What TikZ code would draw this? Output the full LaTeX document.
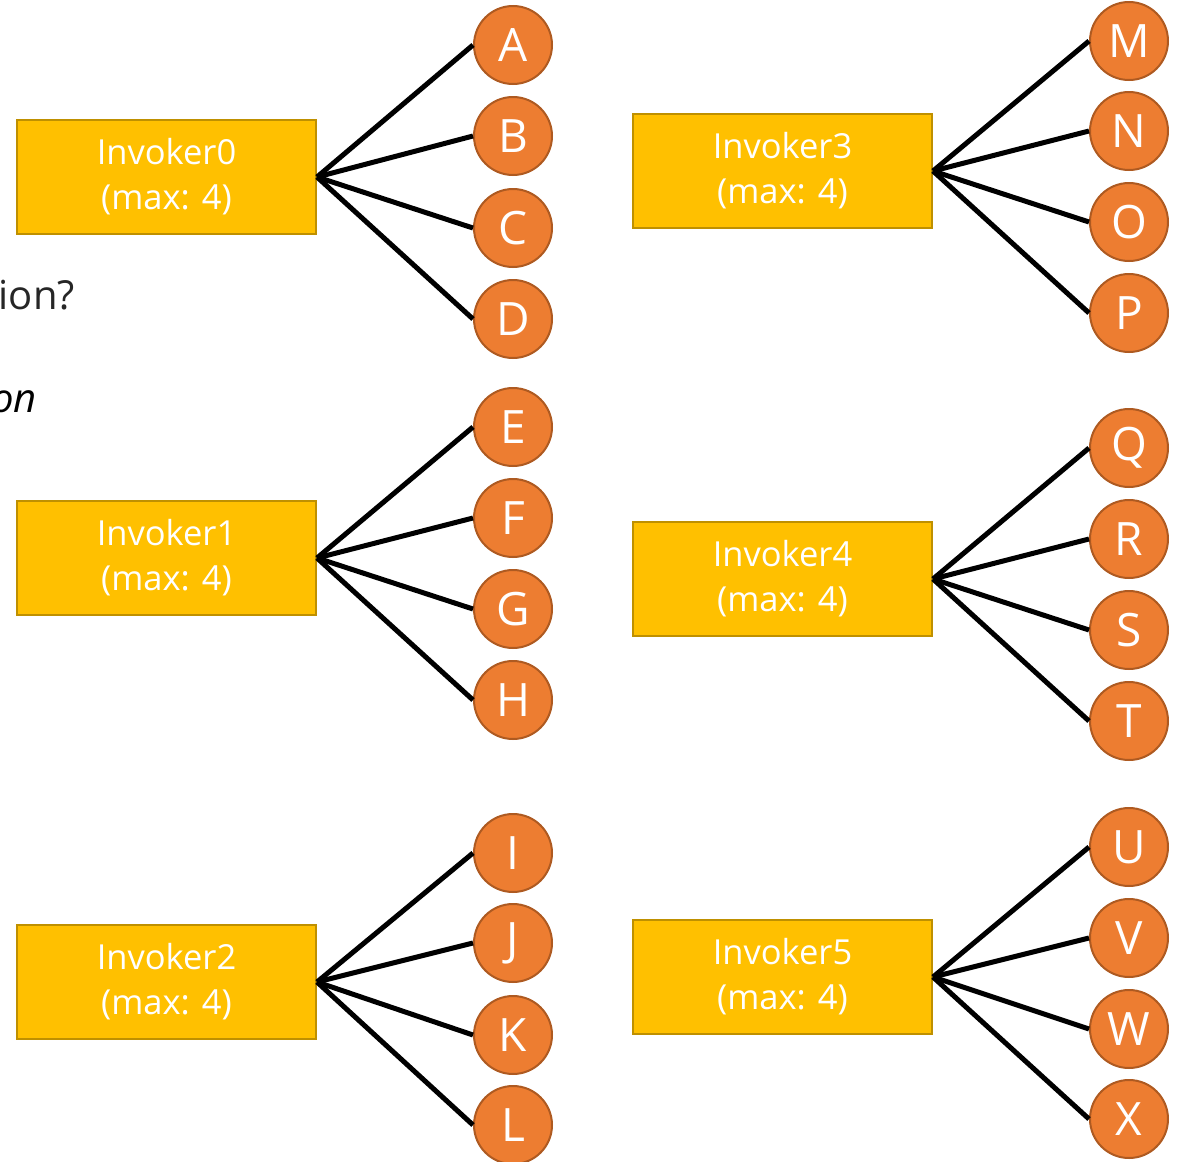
\documentclass[tikz,border=0pt]{standalone}
\usepackage{fontspec}
\setmainfont{Open Sans}
\begin{document}
\begin{tikzpicture}[x=1pt,y=-1pt,
  invoker/.style={draw=boxedge,fill=boxfill,line width=2pt,minimum width=299pt,minimum height=114pt,
    text=white,align=center,font=\fontsize{34.5}{45}\selectfont,inner sep=0pt},
  task/.style={circle,draw=taskedge,fill=taskfill,line width=2pt,minimum size=78pt,inner sep=0pt,
    text=white,font=\fontsize{46}{46}\selectfont},
  link/.style={line width=5pt,black}]
\definecolor{boxfill}{HTML}{FFC000}
\definecolor{boxedge}{HTML}{BF9000}
\definecolor{taskfill}{HTML}{ED7D31}
\definecolor{taskedge}{HTML}{AE5A21}
\useasboundingbox (0,0) rectangle (1179,1162);

% leftover text fragments at the left margin
\node[anchor=base east,inner sep=0pt,font=\fontsize{40}{40}\selectfont,text=black!85] (q) at (75,309) {ion?};
\node[anchor=base east,inner sep=0pt,font=\fontsize{40}{40}\selectfont\itshape] (r) at (37,412) {on};

% invokers
\node[invoker] (i0) at (166.5,177) {Invoker0\\(max: 4)};
\node[invoker] (i1) at (166.5,558) {Invoker1\\(max: 4)};
\node[invoker] (i2) at (166.5,982) {Invoker2\\(max: 4)};
\node[invoker] (i3) at (782.5,171) {Invoker3\\(max: 4)};
\node[invoker] (i4) at (782.5,579) {Invoker4\\(max: 4)};
\node[invoker] (i5) at (782.5,977) {Invoker5\\(max: 4)};

% tasks
\foreach \n/\y in {A/45,B/136,C/228,D/319,E/427,F/518,G/609,H/700,I/853,J/943,K/1035,L/1125}
  \node[task] (\n) at (513,\y) {\n};
\foreach \n/\y in {M/41,N/131,O/222,P/313,Q/448,R/539,S/630,T/721,U/847,V/938,W/1029,X/1119}
  \node[task] (\n) at (1129,\y) {\n};

% fan-out links
\foreach \b/\list in {i0/{A,B,C,D},i1/{E,F,G,H},i2/{I,J,K,L},i3/{M,N,O,P},i4/{Q,R,S,T},i5/{U,V,W,X}}
  \foreach \t in \list
    \draw[link] (\b.east) -- (\t.west);
\end{tikzpicture}
\end{document}
